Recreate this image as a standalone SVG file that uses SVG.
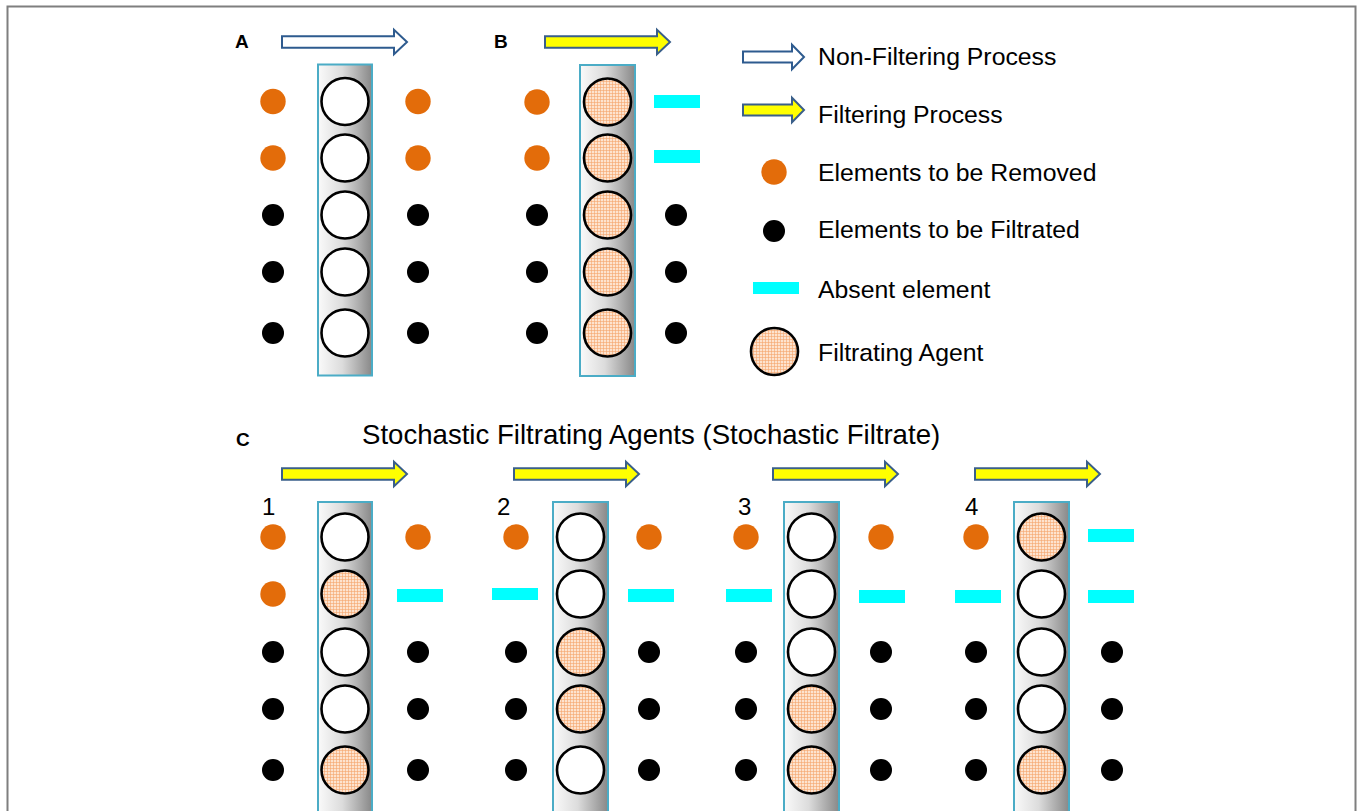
<svg xmlns="http://www.w3.org/2000/svg" xmlns:xlink="http://www.w3.org/1999/xlink" width="1357" height="811" viewBox="0 0 1357 811">
<style>
text{font-family:"Liberation Sans",Arial,sans-serif;fill:#000}
.lbl{font-size:19px;font-weight:bold}
.leg{font-size:24.8px}
.ttl{font-size:27.6px}
.num{font-size:24px}
.col{fill:url(#colgrad);stroke:#4bacc6;stroke-width:2}
.ag{fill:#fff;stroke:#000;stroke-width:2.6}
.fa{fill:url(#hatch);stroke:#000;stroke-width:2.6}
.rm{fill:#e36c0a}
.ft{fill:#000}
.ab{fill:#00ffff}
.nf{fill:#fff;stroke:#2e5b8f;stroke-width:2}
.fp{fill:#ffff00;stroke:#3a5f8a;stroke-width:2}
</style>
<defs>
<linearGradient id="colgrad" x1="0" y1="0" x2="1" y2="0">
<stop offset="0" stop-color="#fafafa"/>
<stop offset="0.45" stop-color="#dcdcdc"/>
<stop offset="1" stop-color="#888888"/>
</linearGradient>
<pattern id="hatch" width="3" height="3" patternUnits="userSpaceOnUse">
<rect width="3" height="3" fill="#fde3cf"/>
<path d="M0,0.5H3M0.5,0V3" stroke="#f5a46c" stroke-width="0.6"/>
</pattern>
<path id="arr" d="M0,-5.8H112V-12.3L125,0L112,12.3V5.8H0Z"/>
<path id="arrs" d="M0,-5.5H49V-12.3L61,0L49,12.3V5.5H0Z"/>
</defs>
<rect x="7.5" y="6.5" width="1348" height="830" fill="#fff" stroke="#7f7f7f" stroke-width="2"/>

<g id="process-arrows">
<use xlink:href="#arr" class="nf" x="282" y="42"/>
<use xlink:href="#arr" class="fp" x="545" y="42"/>
<use xlink:href="#arr" class="fp" x="282" y="474"/>
<use xlink:href="#arr" class="fp" x="514" y="474"/>
<use xlink:href="#arr" class="fp" x="773" y="474"/>
<use xlink:href="#arr" class="fp" x="975" y="474"/>
</g>

<g id="panel-A">
<text class="lbl" x="235" y="48">A</text>
<rect class="col" x="318" y="64.5" width="54" height="311"/>
<circle class="ag" cx="345" cy="101.5" r="23.5"/>
<circle class="ag" cx="345" cy="158" r="23.5"/>
<circle class="ag" cx="345" cy="215" r="23.5"/>
<circle class="ag" cx="345" cy="272" r="23.5"/>
<circle class="ag" cx="345" cy="333" r="23.5"/>
<circle class="rm" cx="273" cy="101.5" r="12.7"/>
<circle class="rm" cx="273" cy="158" r="12.7"/>
<circle class="ft" cx="273" cy="215" r="11"/>
<circle class="ft" cx="273" cy="272" r="11"/>
<circle class="ft" cx="273" cy="333" r="11"/>
<circle class="rm" cx="418" cy="101.5" r="12.7"/>
<circle class="rm" cx="418" cy="158" r="12.7"/>
<circle class="ft" cx="418" cy="215" r="11"/>
<circle class="ft" cx="418" cy="272" r="11"/>
<circle class="ft" cx="418" cy="333" r="11"/>
</g>

<g id="panel-B">
<text class="lbl" x="494" y="48">B</text>
<rect class="col" x="580" y="65" width="55" height="311"/>
<circle class="fa" cx="607.5" cy="102" r="23.5"/>
<circle class="fa" cx="607.5" cy="158" r="23.5"/>
<circle class="fa" cx="607.5" cy="215" r="23.5"/>
<circle class="fa" cx="607.5" cy="272" r="23.5"/>
<circle class="fa" cx="607.5" cy="333" r="23.5"/>
<circle class="rm" cx="537" cy="102" r="12.7"/>
<circle class="rm" cx="537" cy="158" r="12.7"/>
<circle class="ft" cx="537" cy="215" r="11"/>
<circle class="ft" cx="537" cy="272" r="11"/>
<circle class="ft" cx="537" cy="333" r="11"/>
<rect class="ab" x="654" y="95" width="46" height="13"/>
<rect class="ab" x="654" y="150" width="46" height="13"/>
<circle class="ft" cx="676" cy="215" r="11"/>
<circle class="ft" cx="676" cy="272" r="11"/>
<circle class="ft" cx="676" cy="333" r="11"/>
</g>

<g id="legend">
<use xlink:href="#arrs" class="nf" x="743" y="57"/>
<text class="leg" x="818" y="65">Non-Filtering Process</text>
<use xlink:href="#arrs" class="fp" x="743" y="110"/>
<text class="leg" x="818" y="123">Filtering Process</text>
<circle class="rm" cx="774" cy="172" r="12.7"/>
<text class="leg" x="818" y="181">Elements to be Removed</text>
<circle class="ft" cx="774" cy="231" r="11"/>
<text class="leg" x="818" y="238">Elements to be Filtrated</text>
<rect class="ab" x="753" y="282" width="46" height="12"/>
<text class="leg" x="818" y="298">Absent element</text>
<circle class="fa" cx="774.5" cy="351.5" r="23.5"/>
<text class="leg" x="818" y="361">Filtrating Agent</text>
</g>

<g id="panel-C">
<text class="lbl" x="236" y="446">C</text>
<text class="ttl" x="362" y="444">Stochastic Filtrating Agents (Stochastic Filtrate)</text>
</g>

<g id="panel-C1">
<text class="num" x="262" y="515">1</text>
<rect class="col" x="318" y="502" width="54" height="330"/>
<circle class="ag" cx="345" cy="537" r="23.5"/>
<circle class="fa" cx="345" cy="594" r="23.5"/>
<circle class="ag" cx="345" cy="652" r="23.5"/>
<circle class="ag" cx="345" cy="709" r="23.5"/>
<circle class="fa" cx="345" cy="770" r="23.5"/>
<circle class="rm" cx="273" cy="537" r="12.7"/>
<circle class="rm" cx="273" cy="594" r="12.7"/>
<circle class="ft" cx="273" cy="652" r="11"/>
<circle class="ft" cx="273" cy="709" r="11"/>
<circle class="ft" cx="273" cy="770" r="11"/>
<circle class="rm" cx="418" cy="537" r="12.7"/>
<rect class="ab" x="397" y="589" width="46" height="13"/>
<circle class="ft" cx="418" cy="652" r="11"/>
<circle class="ft" cx="418" cy="709" r="11"/>
<circle class="ft" cx="418" cy="770" r="11"/>
</g>

<g id="panel-C2">
<text class="num" x="497" y="515">2</text>
<rect class="col" x="553" y="502" width="55" height="330"/>
<circle class="ag" cx="580.5" cy="537" r="23.5"/>
<circle class="ag" cx="580.5" cy="594" r="23.5"/>
<circle class="fa" cx="580.5" cy="652" r="23.5"/>
<circle class="fa" cx="580.5" cy="709" r="23.5"/>
<circle class="ag" cx="580.5" cy="770" r="23.5"/>
<circle class="rm" cx="516" cy="537" r="12.7"/>
<rect class="ab" x="492" y="588" width="46" height="12"/>
<circle class="ft" cx="516" cy="652" r="11"/>
<circle class="ft" cx="516" cy="709" r="11"/>
<circle class="ft" cx="516" cy="770" r="11"/>
<circle class="rm" cx="649" cy="537" r="12.7"/>
<rect class="ab" x="628" y="589" width="46" height="13"/>
<circle class="ft" cx="649" cy="652" r="11"/>
<circle class="ft" cx="649" cy="709" r="11"/>
<circle class="ft" cx="649" cy="770" r="11"/>
</g>

<g id="panel-C3">
<text class="num" x="738" y="515">3</text>
<rect class="col" x="784" y="502" width="55" height="330"/>
<circle class="ag" cx="811.5" cy="537" r="23.5"/>
<circle class="ag" cx="811.5" cy="594" r="23.5"/>
<circle class="ag" cx="811.5" cy="652" r="23.5"/>
<circle class="fa" cx="811.5" cy="709" r="23.5"/>
<circle class="fa" cx="811.5" cy="770" r="23.5"/>
<circle class="rm" cx="746" cy="537" r="12.7"/>
<rect class="ab" x="726" y="589" width="46" height="13"/>
<circle class="ft" cx="746" cy="652" r="11"/>
<circle class="ft" cx="746" cy="709" r="11"/>
<circle class="ft" cx="746" cy="770" r="11"/>
<circle class="rm" cx="881" cy="537" r="12.7"/>
<rect class="ab" x="859" y="590" width="46" height="13"/>
<circle class="ft" cx="881" cy="652" r="11"/>
<circle class="ft" cx="881" cy="709" r="11"/>
<circle class="ft" cx="881" cy="770" r="11"/>
</g>

<g id="panel-C4">
<text class="num" x="965" y="515">4</text>
<rect class="col" x="1014" y="502" width="55" height="330"/>
<circle class="fa" cx="1041.5" cy="537" r="23.5"/>
<circle class="ag" cx="1041.5" cy="594" r="23.5"/>
<circle class="ag" cx="1041.5" cy="652" r="23.5"/>
<circle class="ag" cx="1041.5" cy="709" r="23.5"/>
<circle class="fa" cx="1041.5" cy="770" r="23.5"/>
<circle class="rm" cx="976" cy="537" r="12.7"/>
<rect class="ab" x="955" y="590" width="46" height="13"/>
<circle class="ft" cx="976" cy="652" r="11"/>
<circle class="ft" cx="976" cy="709" r="11"/>
<circle class="ft" cx="976" cy="770" r="11"/>
<rect class="ab" x="1088" y="529" width="46" height="13"/>
<rect class="ab" x="1088" y="590" width="46" height="13"/>
<circle class="ft" cx="1112" cy="652" r="11"/>
<circle class="ft" cx="1112" cy="709" r="11"/>
<circle class="ft" cx="1112" cy="770" r="11"/>
</g>
</svg>
